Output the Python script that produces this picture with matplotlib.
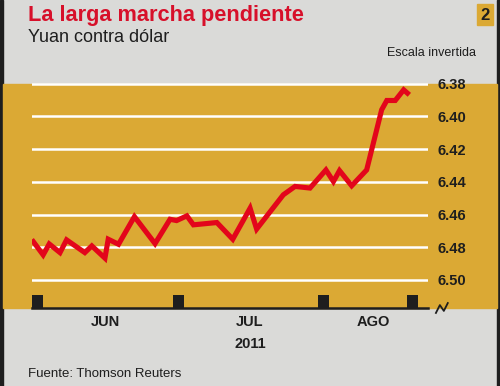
import matplotlib.pyplot as plt
from matplotlib.patches import Rectangle
from matplotlib.transforms import blended_transform_factory

plt.rcParams['font.family'] = ['Liberation Sans', 'DejaVu Sans']

# days counted from 1 June 2011, values in yuan per dollar
days = [-1.0, 1.1, 2.4, 4.7, 6.1, 10.0, 11.5, 14.3, 15.0, 17.2, 20.6, 25.0,
        28.2, 29.6, 31.8, 33.2, 38.2, 41.6, 45.3, 46.7, 52.4, 54.9, 58.1,
        61.5, 63.1, 64.4, 67.0, 70.2, 73.4, 74.5, 76.3, 78.1, 78.9]
yuan = [6.4766, 6.4847, 6.4780, 6.4833, 6.4755, 6.4833, 6.4792, 6.4867,
        6.4751, 6.4782, 6.4613, 6.4778, 6.4629, 6.4637, 6.4608, 6.4663,
        6.4649, 6.4751, 6.4561, 6.4689, 6.4479, 6.4428, 6.4438, 6.4327,
        6.4398, 6.4331, 6.4424, 6.4327, 6.3959, 6.3902, 6.3902, 6.3837,
        6.3857]

y_ticks = [6.38, 6.40, 6.42, 6.44, 6.46, 6.48, 6.50]
y_labels = ['6.38', '6.40', '6.42', '6.44', '6.46', '6.48', '6.50']
marker_days = [-0.1, 30, 61, 80]
months = ['JUN', 'JUL', 'AGO']
month_days = [14.3, 45.3, 71.6]

W, H = 500, 386
fig = plt.figure(figsize=(5, 3.86), dpi=100)
fig.patch.set_facecolor('#dadad8')

gold = '#dba934'
# borders and gold band
fig.patches.append(Rectangle((0, 0), 3 / W, 1, transform=fig.transFigure,
                             color='#1e1e1e', zorder=0))
fig.patches.append(Rectangle((497 / W, 0), 3 / W, 1, transform=fig.transFigure,
                             color='#1e1e1e', zorder=0))
fig.patches.append(Rectangle((3 / W, 1 - 308 / H), 494 / W, 224 / H,
                             transform=fig.transFigure, color=gold, zorder=0))
fig.patches.append(Rectangle((477 / W, 1 - 25 / H), 16 / W, 21 / H,
                             transform=fig.transFigure, color=gold, zorder=0))

ax = fig.add_axes([32 / W, 1 - 308 / H, 396 / W, 225 / H])
ax.set_zorder(2)
ax.set_facecolor('none')
ax.set_xlim(-1.28, 83.3)
ax.set_ylim(6.5172, 6.3795)

for v in y_ticks:
    ax.axhline(v, color='white', lw=1.8, zorder=1)
ax.plot(days, yuan, color='#e3051b', lw=3.7, solid_joinstyle='miter', zorder=3)
ax.bar(marker_days, -0.0079, bottom=6.5172, width=2.3, color='#1e1e1e',
       zorder=2)
ax.axhline(6.5172, color='#1e1e1e', lw=1.8, zorder=2, clip_on=False)

for s in ax.spines.values():
    s.set_visible(False)
ax.set_xticks([])
ax.yaxis.tick_right()
ax.set_yticks(y_ticks)
ax.set_yticklabels(y_labels, fontsize=10.5, fontweight='bold', color='#1e1e1e')
ax.tick_params(axis='y', length=0, pad=7)

# break symbol
ax.plot([1.020, 1.030, 1.040, 1.050], [-0.022, 0.013, -0.013, 0.022],
        transform=ax.transAxes, color='#1e1e1e', lw=1.3, clip_on=False)

tr = blended_transform_factory(ax.transData, fig.transFigure)
for m, d in zip(months, month_days):
    ax.text(d, 1 - 322 / H, m, transform=tr, ha='center', va='center',
            fontsize=10.5, fontweight='bold', color='#1e1e1e')
ax.text(45.3, 1 - 344 / H, '2011', transform=tr, ha='center', va='center',
        fontsize=10.5, fontweight='bold', color='#1e1e1e')

fig.text(28 / W, 1 - 15 / H, 'La larga marcha pendiente', ha='left',
         va='center', fontsize=15.7, fontweight='bold', color='#d7102a')
fig.text(28 / W, 1 - 38 / H, 'Yuan contra dólar', ha='left', va='center',
         fontsize=13, color='#1e1e1e')
fig.text(485 / W, 1 - 15 / H, '2', ha='center', va='center', fontsize=12,
         fontweight='bold', color='#1e1e1e')
fig.text(476 / W, 1 - 53 / H, 'Escala invertida', ha='right', va='center',
         fontsize=9, color='#1e1e1e')
fig.text(28 / W, 1 - 374 / H, 'Fuente: Thomson Reuters', ha='left',
         va='center', fontsize=9.5, color='#1e1e1e')

fig.savefig('out.png', dpi=100)
